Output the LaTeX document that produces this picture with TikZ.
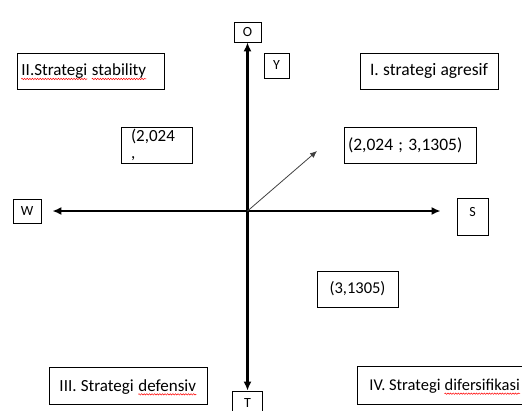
\documentclass[tikz,border=0pt]{standalone}
\usepackage{fontspec}
\setmainfont{Carlito}
\usetikzlibrary{arrows.meta, decorations.pathmorphing}
\newcommand\redwave[1]{\tikz[baseline=(wavetxt.base)]{\node[inner sep=0pt, draw=none] (wavetxt) {#1};
		\draw[red, line width=0.5pt, decorate, decoration={snake, amplitude=0.7pt, segment length=2.6pt}] ([yshift=-3pt]wavetxt.base west) -- ([yshift=-3pt]wavetxt.base east);}}
\begin{document}
\begin{tikzpicture}[x=1pt, y=-1pt,
		box/.style = {draw, line width=0.8pt, inner xsep=4pt, inner ysep=0pt, minimum height=36pt, font=\fontsize{17}{19}\selectfont, execute at begin node={\spaceskip=0pt\xspaceskip=0pt\relax}},
		big/.style = {font=\fontsize{17.5}{19}\selectfont},
		small/.style = {font=\fontsize{16.5}{19}\selectfont},
		lbl/.style = {draw, line width=0.8pt, inner sep=0pt, font=\fontsize{14}{15}\selectfont},
		axis/.style = {line width=2.2pt, {Latex[length=9pt,width=8pt]}-{Latex[length=9pt,width=8pt]}},
		vec/.style = {line width=0.8pt, black!75, -{Latex[length=7pt,width=6pt]}}]
			\useasboundingbox (0,0) rectangle (522,410);
			\clip (0,0) rectangle (522,410);
			\node[lbl, minimum width=27pt, minimum height=20pt] (o) at (247.5,32) {O};
			\node[lbl, minimum width=25pt, minimum height=25pt] (y) at (276.5,65.5) {Y};
			\node[lbl, minimum width=28pt, minimum height=24pt] (w) at (27,211) {W};
			\node[lbl, minimum width=31pt, minimum height=37pt, text depth=9pt] (s) at (472.5,216.5) {S};
			\node[lbl, minimum width=30pt, minimum height=24pt] (t) at (247.5,403) {T};
			\node[box, text width=139pt, align=left] (ii) at (90.5,71.5) {\redwave{II.Strategi} \redwave{stability}};
			\node[box, big, text width=130pt, align=center] (i) at (429,71) {I. strategi agresif};
			\node[box, inner xsep=10pt, text width=51pt, align=left] (p1) at (156.5,145) {(2,024\\[-2pt],};
			\node[box, big, text width=124pt, align=left, execute at begin node={\spaceskip=0.3em\relax}] (p2) at (410,145) {(2,024 ; 3,1305)};
			\node[box, small, text width=73pt, align=center] (p3) at (357.5,289) {(3,1305)};
			\node[box, text width=150pt, align=center, minimum height=37pt] (iii) at (128,385.5) {III. Strategi \redwave{defensiv}};
			\node[box, small, anchor=west, inner xsep=12pt, minimum height=38pt] (iv) at (357,385) {IV. Strategi \redwave{difersifikasi}};
			\coordinate (c) at (247.5,211);
			\coordinate (tip) at (317,151);

			\draw[axis] (o) -- (t);
			\draw[axis, shorten <=11pt, shorten >=16pt] (w) -- (w -| s.west);
			\draw[vec] (c) -- (tip);
		\end{tikzpicture}
\end{document}
